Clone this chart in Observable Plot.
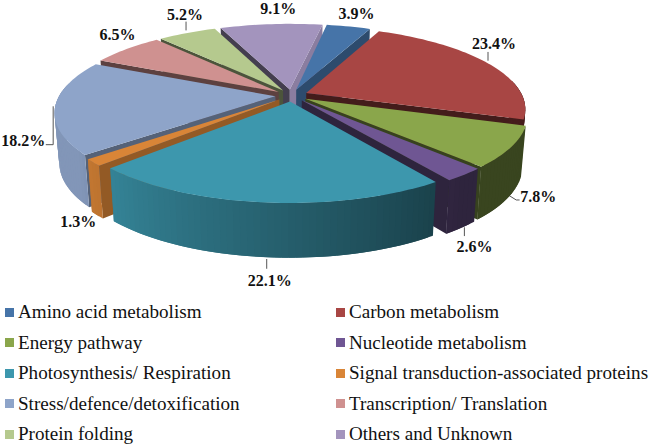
<!DOCTYPE html>
<html><head><meta charset="utf-8">
<script src="https://cdn.jsdelivr.net/npm/d3@7"></script>
<script src="https://cdn.jsdelivr.net/npm/@observablehq/plot@0.6"></script>
<style>
html,body{margin:0;padding:0;background:#fff;width:651px;height:446px;overflow:hidden}
#legend{display:grid;grid-template-columns:331px 320px;grid-auto-rows:30.5px;padding-left:5px;box-sizing:border-box;width:651px;
font:19.1px "Liberation Serif",serif;color:#111}
#legend div{display:flex;align-items:center;white-space:nowrap}
#legend i{display:inline-block;width:9px;height:9px;margin-right:4px;flex:none}
</style></head><body>
<div id="chart"></div><div id="legend"></div>
<script>
const categories = ["Amino acid metabolism","Carbon metabolism","Energy pathway","Nucleotide metabolism","Photosynthesis/ Respiration","Signal transduction-associated proteins","Stress/defence/detoxification","Transcription/ Translation","Protein folding","Others and Unknown"];
const values = [3.9,23.4,7.8,2.6,22.1,1.3,18.2,6.5,5.2,9.1];
const colors = ["#4674a8","#a84644","#8aa64b","#6f5693","#3d97ad","#d98537","#8ea4c9","#cf9190","#b5c98e","#a394bd"];
// shading of the cut faces of each wedge (0 = hidden)
const startShade = [0,0,0,0,0,.68,.6,.45,.42,.42];
const endShade = [.65,.4,.4,.42,0,0,0,0,0,.85];
// label placement relative to the wedge's rim point
const labelDx = [8,6,27,10,6,-15,-32,-9,-2,7];
const labelDy = [-13,-19,50,72,78,59,34,-14,-18,-15];
const leaders = [[],[[0,-3],[0,-11]],[[-3,48],[5,53],[8,53]],[[0,53],[0,61]],[[3,57],[3,66]],[],[[-2,0],[-2,38],[-9,38]],[],[[-1,-3],[-1,-11]],[]];

const W = 651, H = 297;
const cx = 291, cy = 95, rx = 216, ry = 80, persp = .186, explode = .075, depth = 49, shrink = .98, rot = 10;
const rad = d => d * Math.PI / 180;
let c0 = 0;
const slices = values.map((v, i) => {
  const a0 = rot + c0 * 3.6; c0 += v; const a1 = rot + c0 * 3.6;
  return {i, v, a0, a1, mid: (a0 + a1) / 2};
});
function proj(s, a, r, low) {
  const ox = explode * Math.sin(rad(s.mid)), oz = explode * Math.cos(rad(s.mid));
  const X = ox + r * Math.sin(rad(a)), Z = oz + r * Math.cos(rad(a));
  const k = 1 / (1 + persp * Z);
  let x = rx * X * k, y = cy - ry * Z * k;
  if (low) { x *= shrink; y += depth * Math.sqrt(k); }
  return [cx + x, y];
}
const shade = (c, f) => { const q = d3.rgb(c); return `rgb(${q.r*f|0},${q.g*f|0},${q.b*f|0})`; };
const rimShade = a => Math.max(.42, Math.min(.92, .44 + (a - 146) * .43 / 79));
const rows = []; let id = 0;
const poly = (pts, fill) => { id++; pts.forEach(p => rows.push({id, x: p[0], y: p[1], fill})); };
const order = slices.slice().sort((a, b) => Math.cos(rad(b.mid)) - Math.cos(rad(a.mid)));
for (const s of order) {
  const c = colors[s.i];
  const face = (a, f) => { if (f) poly([proj(s,a,0,false),proj(s,a,1,false),proj(s,a,1,true),proj(s,a,0,true)], shade(c,f)); };
  face(s.a0, startShade[s.i]); face(s.a1, endShade[s.i]);
  const arc = d3.range(s.a0, s.a1, 1.5).concat([s.a1]);
  for (let j = 0; j + 1 < arc.length; j++) {
    const m = (arc[j] + arc[j+1]) / 2;
    // each segment runs on under the next so no seam shows between them
    const e = arc[Math.min(j + 2, arc.length - 1)];
    if (Math.cos(rad(m)) < .15) poly([proj(s,arc[j],1,false),proj(s,e,1,false),proj(s,e,1,true),proj(s,arc[j],1,true)], shade(c, rimShade(m)));
  }
  poly([proj(s,s.a0,0,false), ...arc.map(a => proj(s,a,1,false))], c);
}
const labels = slices.map(s => {
  const p = proj(s, s.mid, 1, false);
  return {x: p[0] + labelDx[s.i], y: p[1] + labelDy[s.i], text: s.v.toFixed(1) + "%", ax: p[0], ay: p[1]};
});
const leaderRows = [];
labels.forEach((l, i) => leaders[i].forEach(o => leaderRows.push({i, x: l.ax + o[0], y: l.ay + o[1]})));

const plot = Plot.plot({
  width: W, height: H, margin: 0,
  x: {domain: [0, W], range: [0, W], axis: null},
  y: {domain: [0, H], range: [0, H], axis: null},
  color: {type: "identity"},
  marks: [
    Plot.line(leaderRows, {x: "x", y: "y", z: "i", stroke: "#555", strokeWidth: 1}),
    Plot.line(rows, {x: "x", y: "y", z: "id", fill: "fill", stroke: "none", curve: "linear"}),
    Plot.text(labels, {x: "x", y: "y", text: "text", fontFamily: "Liberation Serif", fontWeight: "bold", fontSize: 16, fill: "#111"})
  ]
});
plot.style.display = "block";
document.getElementById("chart").append(plot);
const lg = document.getElementById("legend");
categories.forEach((c, i) => {
  const d = document.createElement("div");
  const sw = document.createElement("i"); sw.style.background = colors[i];
  d.append(sw, document.createTextNode(c)); lg.append(d);
});
</script>
</body></html>
